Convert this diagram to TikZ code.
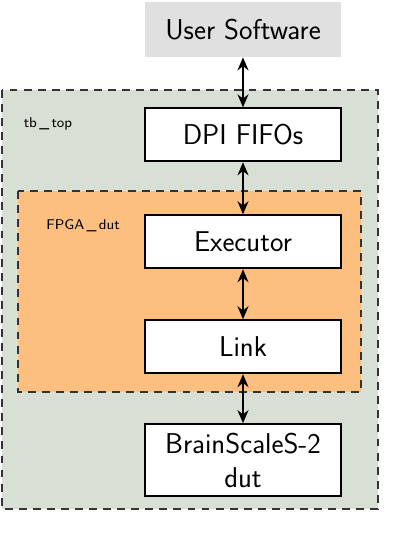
\documentclass[tikz,border=0pt]{standalone}
\usepackage{tikz}
\usetikzlibrary{positioning,arrows.meta,backgrounds}
\definecolor{swgray}{HTML}{E0E0E0}
\definecolor{tbgreen}{HTML}{D8DFD4}
\definecolor{fpgaorange}{HTML}{FDBF7F}

\begin{document}
\begin{tikzpicture}[
  font=\sffamily\fontsize{16.3}{19.5}\selectfont,
  blk/.style={draw=black, line width=1.1pt, fill=white, align=center, minimum width=39.2mm, minimum height=10.6mm, inner sep=2pt},
  sw/.style={fill=swgray, align=center, minimum width=39.2mm, minimum height=11mm},
  region/.style={draw=black!80, dash pattern=on 4.5pt off 3.5pt, line width=0.9pt},
  tag/.style={font=\sffamily\footnotesize},
  arr/.style={{Stealth[length=2.6mm, width=2.2mm]}-{Stealth[length=2.6mm, width=2.2mm]}, line width=1.1pt},
]
\useasboundingbox (0,0) rectangle (8,-10.88);
\node[sw] (user) at (4.86,-0.59) {User Software};
\node[blk, below=1cm of user] (fifo) {DPI FIFOs};
\node[blk, below=1.04cm of fifo] (exec) {Executor};
\node[blk, below=1cm of exec] (link) {Link};
\node[blk, below=0.98cm of link, minimum height=14.4mm, text width=36mm] (bss) {BrainScaleS-2\\dut};
% containers
\begin{scope}[on background layer]
\draw[region, fill=tbgreen] (0.04,-1.8) rectangle (7.56,-10.18);
\draw[region, fill=fpgaorange] (0.36,-3.82) rectangle (7.22,-7.84);
\end{scope}
\node[tag] (tbtop) at (0.96,-2.48) {tb\,\_\,top};
\node[tag] (fpgadut) at (1.66,-4.52) {FPGA\,\_\,dut};
\draw[arr] (user) -- (fifo);
\draw[arr] (fifo) -- (exec);
\draw[arr] (exec) -- (link);
\draw[arr] (link) -- (bss);
\end{tikzpicture}
\end{document}
